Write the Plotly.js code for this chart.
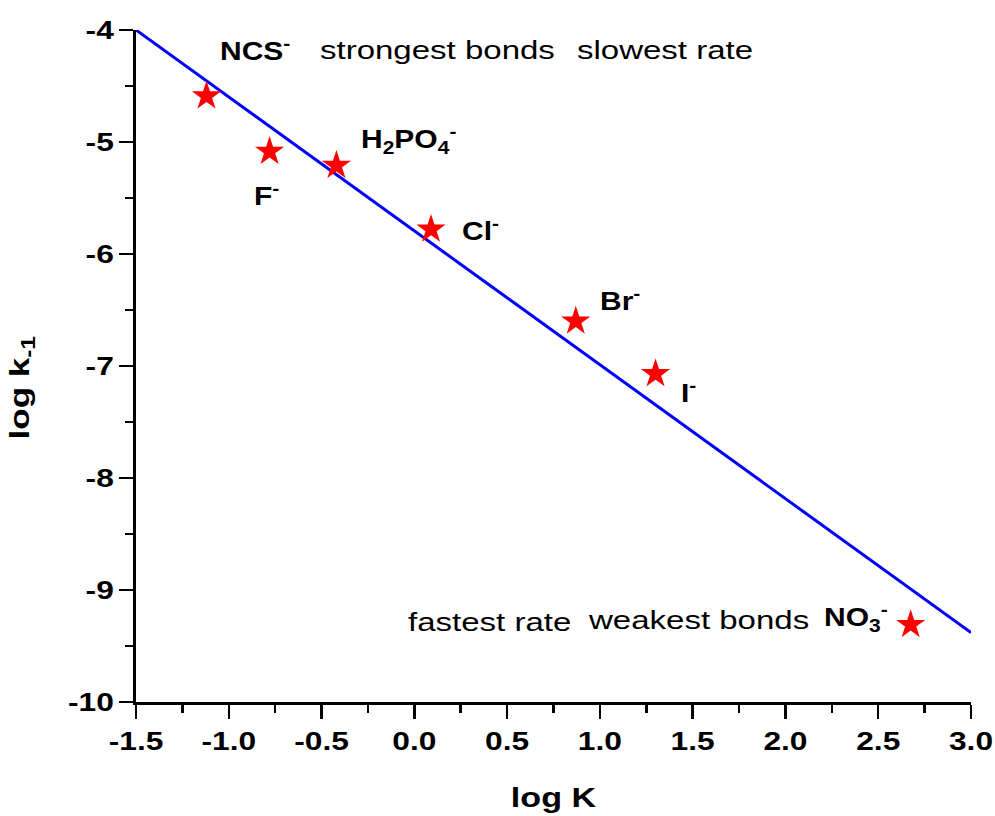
<!DOCTYPE html>
<html>
<head>
<meta charset="utf-8">
<script src="https://cdn.plot.ly/plotly-3.0.1.min.js"></script>
<style>
html, body { margin: 0; padding: 0; background: #ffffff; }
#chart { width: 995px; height: 816px; }
</style>
</head>
<body>
<div id="chart"></div>
<script>
// ---- data ----
const anionLabels = ['NCS<sup>-</sup>', 'F<sup>-</sup>', 'H<sub>2</sub>PO<sub>4</sub><sup>-</sup>', 'Cl<sup>-</sup>', 'Br<sup>-</sup>', 'I<sup>-</sup>', 'NO<sub>3</sub><sup>-</sup>'];
const logK = [-1.12, -0.78, -0.42, 0.09, 0.87, 1.30, 2.675];
const logk1 = [-4.59, -5.085, -5.21, -5.78, -6.60, -7.07, -9.31];
const fitLogK = [-1.5, 3.0];
const fitLogk1 = [-4.0, -9.38];
const xTickVals = [-1.5, -1.0, -0.5, 0.0, 0.5, 1.0, 1.5, 2.0, 2.5, 3.0];
const xTickText = ['-1.5', '-1.0', '-0.5', '0.0', '0.5', '1.0', '1.5', '2.0', '2.5', '3.0'];
const yTickVals = [-10, -9, -8, -7, -6, -5, -4];
const yTickText = ['-10', '-9', '-8', '-7', '-6', '-5', '-4'];
const noteTop = ['strongest bonds', 'slowest rate'];
const noteBottom = ['fastest rate', 'weakest bonds'];

// ---- label placement (layout only) ----
const labelPos = [
  [-1.058, -4.18], [-0.875, -5.47], [-0.297, -4.98], [0.247, -5.785],
  [0.992, -6.41], [1.429, -7.235], [2.195, -9.25]
];
const notePosTop = [[-0.519, -4.18], [0.868, -4.18]];
const notePosBottom = [[-0.044, -9.285], [0.927, -9.27]];

const FONT = 'Liberation Sans, Arial, Helvetica, sans-serif';
const annotations = [];
anionLabels.forEach((t, i) => {
  annotations.push({
    x: labelPos[i][0], y: labelPos[i][1], xref: 'x', yref: 'y',
    text: t, showarrow: false, xanchor: 'left', yanchor: 'middle', align: 'left',
    font: { family: FONT, size: 25, weight: 'bold', color: '#000' }
  });
});
noteTop.forEach((t, i) => {
  annotations.push({
    x: notePosTop[i][0], y: notePosTop[i][1], xref: 'x', yref: 'y',
    text: t, showarrow: false, xanchor: 'left', yanchor: 'middle', align: 'left',
    font: { family: FONT, size: 26, color: '#000' }
  });
});
noteBottom.forEach((t, i) => {
  annotations.push({
    x: notePosBottom[i][0], y: notePosBottom[i][1], xref: 'x', yref: 'y',
    text: t, showarrow: false, xanchor: 'left', yanchor: 'middle', align: 'left',
    font: { family: FONT, size: 26, color: '#000' }
  });
});
const yTitleIndex = annotations.length;
annotations.push({
  x: -0.137, y: 0.468, xref: 'paper', yref: 'paper',
  text: 'log k<sub>-1</sub>', showarrow: false, textangle: -90,
  xanchor: 'center', yanchor: 'middle',
  font: { family: FONT, size: 28, weight: 'bold', color: '#000' }
});

const traces = [
  {
    x: fitLogK, y: fitLogk1, type: 'scatter', mode: 'lines',
    line: { color: '#0000ff', width: 3 }, hoverinfo: 'skip'
  },
  {
    x: logK, y: logk1, type: 'scatter', mode: 'markers',
    marker: { symbol: 'star', size: 22, color: '#ff0000', line: { width: 0 } }
  }
];

const axisCommon = {
  showline: true, linewidth: 3, linecolor: '#000',
  ticks: 'outside', ticklen: 14, tickwidth: 2.5, tickcolor: '#000',
  showgrid: false, zeroline: false, automargin: false, fixedrange: true,
  tickfont: { family: FONT, size: 26, weight: 'bold', color: '#000' }
};

const layout = {
  width: 995, height: 816,
  margin: { l: 136, r: 24, t: 30, b: 114 },
  paper_bgcolor: '#ffffff', plot_bgcolor: '#ffffff',
  showlegend: false,
  font: { family: FONT, color: '#000' },
  xaxis: Object.assign({}, axisCommon, {
    range: [-1.5, 3.0], tickmode: 'array', tickvals: xTickVals, ticktext: xTickText,
    minor: { tick0: -1.5, dtick: 0.25, ticks: 'outside', ticklen: 8, tickwidth: 2.5, tickcolor: '#000', showgrid: false },
    title: { text: 'log K', font: { family: FONT, size: 28, weight: 'bold', color: '#000' }, standoff: 33 }
  }),
  yaxis: Object.assign({}, axisCommon, {
    range: [-10, -4], tickmode: 'array', tickvals: yTickVals, ticktext: yTickText,
    minor: { tick0: -10, dtick: 0.5, ticks: 'outside', ticklen: 8, tickwidth: 2.5, tickcolor: '#000', showgrid: false }
  }),
  annotations: annotations
};

function stretchTexts(gd) {
  const nodes = gd.querySelectorAll('.xtick text, .ytick text, text.xtitle, .annotation');
  nodes.forEach(n => {
    let t = n;
    let s = 1.22;
    if (n.classList.contains('annotation')) {
      t = n.querySelector('text.annotation-text');
      if (!t) return;
      const idx = parseInt(n.getAttribute('data-index'), 10);
      s = (idx === yTitleIndex) ? 1.25 : (idx < anionLabels.length ? 1.2 : 1.27);
    }
    const ax = parseFloat(t.getAttribute('x')) || 0;
    const tr = t.getAttribute('transform') || '';
    t.setAttribute('transform', tr + ' translate(' + ax + ',0) scale(' + s + ',1) translate(' + (-ax) + ',0)');
  });
}

Plotly.newPlot('chart', traces, layout, { staticPlot: true, displayModeBar: false })
  .then(gd => stretchTexts(gd));
</script>
</body>
</html>
